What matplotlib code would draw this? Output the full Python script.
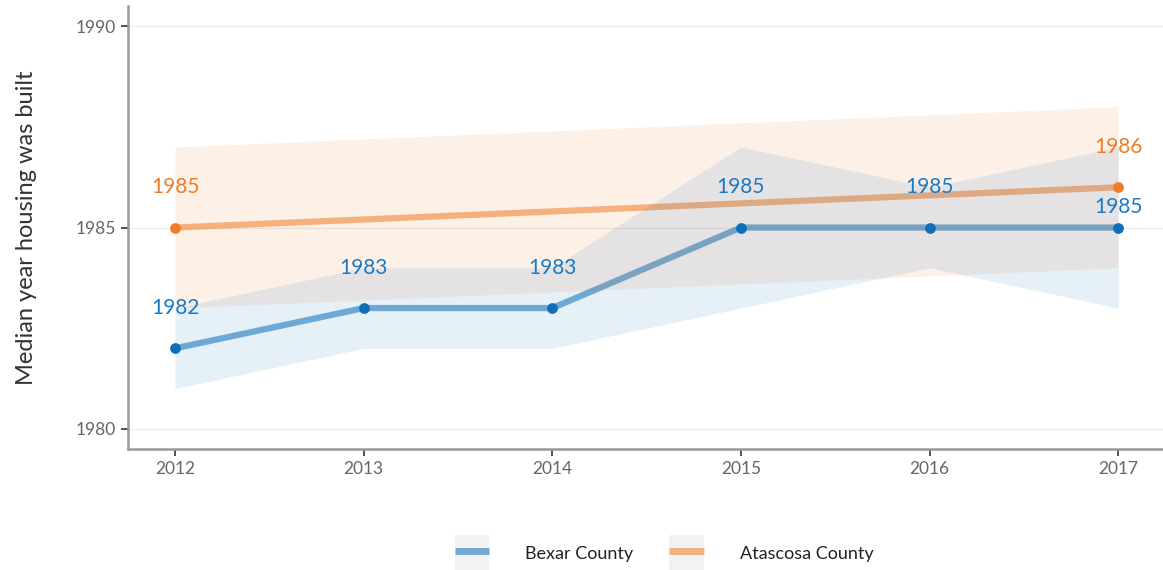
import matplotlib
matplotlib.use("Agg")
import matplotlib.pyplot as plt
from matplotlib.lines import Line2D
from matplotlib.patches import Rectangle
from matplotlib.legend_handler import HandlerLine2D

# median year housing was built, with margin of error bounds
bexar_years = [2012, 2013, 2014, 2015, 2016, 2017]
bexar_median = [1982, 1983, 1983, 1985, 1985, 1985]
bexar_low = [1981, 1982, 1982, 1983, 1984, 1983]
bexar_high = [1983, 1984, 1984, 1987, 1986, 1987]

atascosa_years = [2012, 2017]
atascosa_median = [1985, 1986]
atascosa_low = [1983, 1984]
atascosa_high = [1987, 1988]

blue = "#0e6eb8"
orange = "#f07c28"

plt.rcParams["font.family"] = ["Lato", "DejaVu Sans"]


class KeyHandler(HandlerLine2D):
    # legend key drawn on a light grey square, like ggplot
    def create_artists(self, legend, orig_handle, xdescent, ydescent, width, height, fontsize, trans):
        bg = Rectangle((-xdescent, -ydescent - (width - height) / 2), width, width,
                       facecolor="#f2f2f2", edgecolor="none", transform=trans)
        artists = super().create_artists(legend, orig_handle, xdescent, ydescent, width, height, fontsize, trans)
        return [bg] + list(artists)


fig = plt.figure(figsize=(11.63, 5.70), dpi=100)
ax = fig.add_axes([0.110, 0.2123, 0.892, 0.777])

series = [
    (atascosa_years, atascosa_median, atascosa_low, atascosa_high, orange, "#f07c28", 0.11),
    (bexar_years, bexar_median, bexar_low, bexar_high, blue, "#1a7ac4", 0.10),
]
# lines first, ribbons over them, then points and labels
for years, med, low, high, col, tcol, ralpha in series:
    ax.plot(years, med, color=col, alpha=0.55, linewidth=4.5, solid_capstyle="butt", zorder=2)
for years, med, low, high, col, tcol, ralpha in series:
    ax.fill_between(years, low, high, color=col, alpha=ralpha, linewidth=0, zorder=3)

label_spots = {}
for years, med, low, high, col, tcol, ralpha in series:
    ax.scatter(years, med, color=col, s=60, zorder=4, linewidths=0)
    for x, y in zip(years, med):
        ty = y + 1
        # nudge down when another label already sits close by (repel)
        if x in label_spots and abs(label_spots[x] - ty) <= 1:
            ty = y + 0.5
        label_spots[x] = ty
        ax.text(x, ty, str(y), color=tcol, fontsize=15, ha="center", va="center", zorder=5)

ax.set_xlim(2011.75, 2017.25)
ax.set_ylim(1979.5, 1990.5)
ax.set_xticks(bexar_years)
ax.set_yticks([1980, 1985, 1990])
ax.yaxis.grid(True, color="#ebebeb", linewidth=0.8)
ax.set_axisbelow(True)
for side in ["top", "right"]:
    ax.spines[side].set_visible(False)
for side in ["left", "bottom"]:
    ax.spines[side].set_color("#999999")
    ax.spines[side].set_linewidth(1.8)
ax.tick_params(colors="#333333", labelcolor="#666666", labelsize=12.5, length=5, width=1.2)
ax.set_ylabel("Median year housing was built", fontsize=17, color="#333333", labelpad=28)

handles = [
    Line2D([], [], color=blue, alpha=0.55, linewidth=5, solid_capstyle="butt"),
    Line2D([], [], color=orange, alpha=0.55, linewidth=5, solid_capstyle="butt"),
]
leg = fig.legend(handles, ["Bexar County", "Atascosa County"], loc="center",
                 bbox_to_anchor=(0.571, 0.03), ncol=2, frameon=False, fontsize=13,
                 handlelength=1.9, handleheight=1.0, handletextpad=2.0, columnspacing=2.0,
                 handler_map={Line2D: KeyHandler()})
for t in leg.get_texts():
    t.set_color("#222222")

fig.savefig("out.png", dpi=100)
